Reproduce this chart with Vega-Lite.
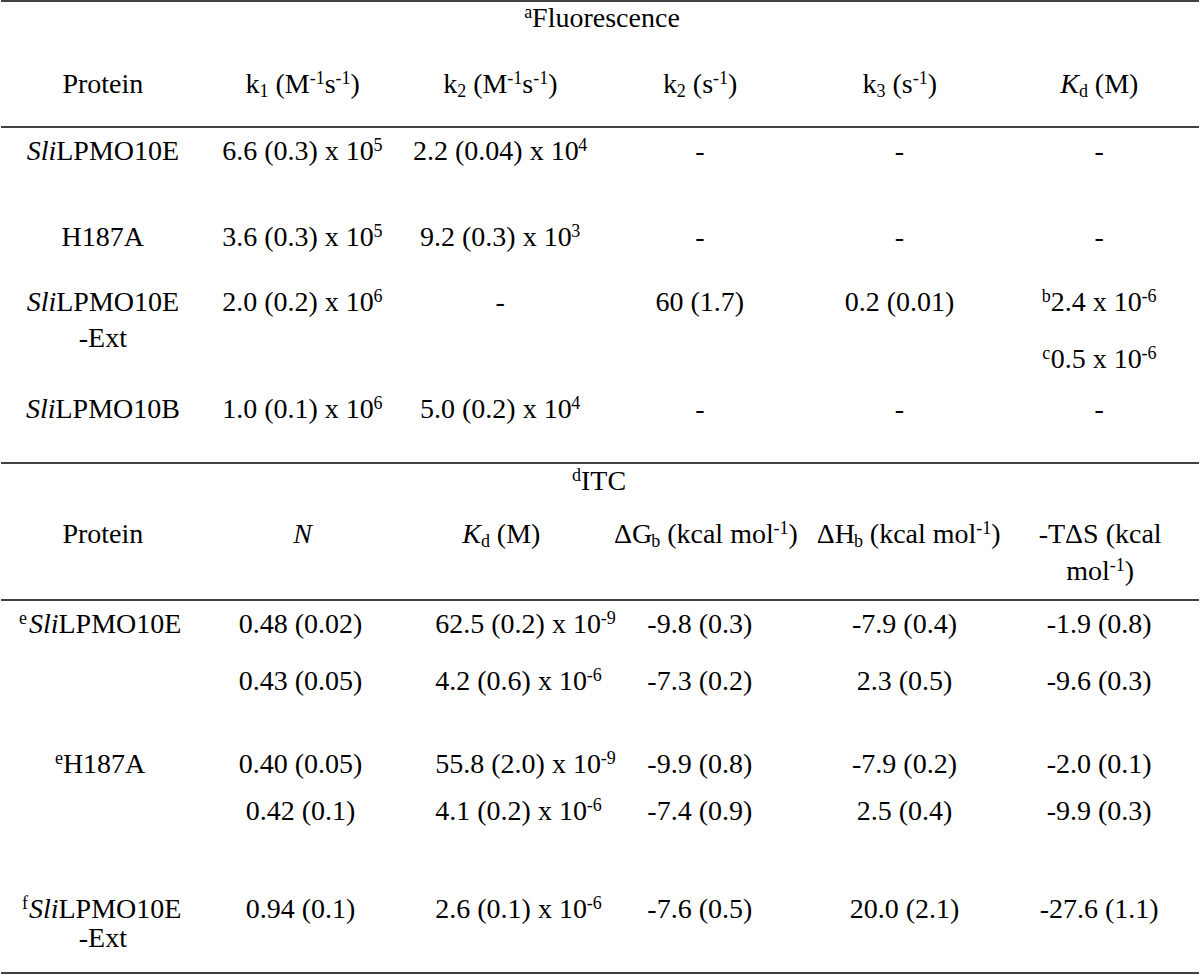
{
  "$schema": "https://vega.github.io/schema/vega-lite/v6.json",
  "autosize": {"type": "fit", "contains": "padding"},
  "width": 1200,
  "height": 975,
  "padding": 0,
  "background": "white",
  "config": {"view": {"stroke": null}},
  "datasets": {
    "lines": [
      {"x1": 0, "x2": 1200, "y": 1},
      {"x1": 0, "x2": 1200, "y": 127},
      {"x1": 0, "x2": 1200, "y": 463},
      {"x1": 0, "x2": 1200, "y": 600},
      {"x1": 0, "x2": 1200, "y": 973}
    ],
    "cells": [
      {"x": 524, "y": 27, "t": "a", "s": "p"},
      {"x": 532, "y": 27, "t": "Fluorescence", "s": "l"},

      {"x": 102, "y": 93, "t": "Protein", "s": "c"},
      {"x": 245, "y": 93, "t": "k", "s": "l"},
      {"x": 259, "y": 93, "t": "1", "s": "b"},
      {"x": 275, "y": 93, "t": "(M", "s": "l"},
      {"x": 309.2, "y": 93, "t": "-1", "s": "p"},
      {"x": 324.2, "y": 93, "t": "s", "s": "l"},
      {"x": 335.1, "y": 93, "t": "-1", "s": "p"},
      {"x": 350.1, "y": 93, "t": ")", "s": "l"},
      {"x": 443, "y": 93, "t": "k", "s": "l"},
      {"x": 457, "y": 93, "t": "2", "s": "b"},
      {"x": 473, "y": 93, "t": "(M", "s": "l"},
      {"x": 507.2, "y": 93, "t": "-1", "s": "p"},
      {"x": 522.2, "y": 93, "t": "s", "s": "l"},
      {"x": 533.1, "y": 93, "t": "-1", "s": "p"},
      {"x": 548.1, "y": 93, "t": ")", "s": "l"},
      {"x": 663, "y": 93, "t": "k", "s": "l"},
      {"x": 677, "y": 93, "t": "2", "s": "b"},
      {"x": 693, "y": 93, "t": "(s", "s": "l"},
      {"x": 713.2, "y": 93, "t": "-1", "s": "p"},
      {"x": 728.2, "y": 93, "t": ")", "s": "l"},
      {"x": 863, "y": 93, "t": "k", "s": "l"},
      {"x": 877, "y": 93, "t": "3", "s": "b"},
      {"x": 893, "y": 93, "t": "(s", "s": "l"},
      {"x": 913.2, "y": 93, "t": "-1", "s": "p"},
      {"x": 928.2, "y": 93, "t": ")", "s": "l"},
      {"x": 1061, "y": 93, "t": "K", "s": "il"},
      {"x": 1079.7, "y": 93, "t": "d", "s": "b"},
      {"x": 1095.7, "y": 93, "t": "(M)", "s": "l"},

      {"x": 25.7, "y": 160, "t": "Sli", "s": "il"},
      {"x": 55.3, "y": 160, "t": "LPMO10E", "s": "l"},
      {"x": 221.5, "y": 160, "t": "6.6 (0.3) x 10", "s": "l"},
      {"x": 373.2, "y": 160, "t": "5", "s": "p"},
      {"x": 412.7, "y": 160, "t": "2.2 (0.04) x 10", "s": "l"},
      {"x": 578.3, "y": 160, "t": "4", "s": "p"},
      {"x": 700, "y": 160, "t": "-", "s": "c"},
      {"x": 900, "y": 160, "t": "-", "s": "c"},
      {"x": 1100, "y": 160, "t": "-", "s": "c"},

      {"x": 102, "y": 246, "t": "H187A", "s": "c"},
      {"x": 221.5, "y": 246, "t": "3.6 (0.3) x 10", "s": "l"},
      {"x": 373.2, "y": 246, "t": "5", "s": "p"},
      {"x": 419.7, "y": 246, "t": "9.2 (0.3) x 10", "s": "l"},
      {"x": 571.3, "y": 246, "t": "3", "s": "p"},
      {"x": 700, "y": 246, "t": "-", "s": "c"},
      {"x": 900, "y": 246, "t": "-", "s": "c"},
      {"x": 1100, "y": 246, "t": "-", "s": "c"},

      {"x": 25.7, "y": 311, "t": "Sli", "s": "il"},
      {"x": 55.3, "y": 311, "t": "LPMO10E", "s": "l"},
      {"x": 221.5, "y": 311, "t": "2.0 (0.2) x 10", "s": "l"},
      {"x": 373.2, "y": 311, "t": "6", "s": "p"},
      {"x": 500, "y": 311, "t": "-", "s": "c"},
      {"x": 700, "y": 311, "t": "60 (1.7)", "s": "c"},
      {"x": 900, "y": 311, "t": "0.2 (0.01)", "s": "c"},
      {"x": 1042.5, "y": 311, "t": "b", "s": "p"},
      {"x": 1051.5, "y": 311, "t": "2.4 x 10", "s": "l"},
      {"x": 1142.5, "y": 311, "t": "-6", "s": "p"},
      {"x": 102, "y": 347, "t": "-Ext", "s": "c"},
      {"x": 1043, "y": 368, "t": "c", "s": "p"},
      {"x": 1051.5, "y": 368, "t": "0.5 x 10", "s": "l"},
      {"x": 1142.5, "y": 368, "t": "-6", "s": "p"},

      {"x": 25, "y": 418, "t": "Sli", "s": "il"},
      {"x": 54.6, "y": 418, "t": "LPMO10B", "s": "l"},
      {"x": 221.5, "y": 418, "t": "1.0 (0.1) x 10", "s": "l"},
      {"x": 373.2, "y": 418, "t": "6", "s": "p"},
      {"x": 419.7, "y": 418, "t": "5.0 (0.2) x 10", "s": "l"},
      {"x": 571.3, "y": 418, "t": "4", "s": "p"},
      {"x": 700, "y": 418, "t": "-", "s": "c"},
      {"x": 900, "y": 418, "t": "-", "s": "c"},
      {"x": 1100, "y": 418, "t": "-", "s": "c"},

      {"x": 572, "y": 490, "t": "d", "s": "p"},
      {"x": 581, "y": 490, "t": "ITC", "s": "l"},

      {"x": 102, "y": 543, "t": "Protein", "s": "c"},
      {"x": 302, "y": 543, "t": "N", "s": "ic"},
      {"x": 462, "y": 543, "t": "K", "s": "il"},
      {"x": 480.7, "y": 543, "t": "d", "s": "b"},
      {"x": 496.7, "y": 543, "t": "(M)", "s": "l"},
      {"x": 614, "y": 543, "t": "ΔG", "s": "l"},
      {"x": 651.3, "y": 543, "t": "b", "s": "b"},
      {"x": 667.3, "y": 543, "t": "(kcal mol", "s": "l"},
      {"x": 773.9, "y": 543, "t": "-1", "s": "p"},
      {"x": 788.9, "y": 543, "t": ")", "s": "l"},
      {"x": 817, "y": 543, "t": "ΔH", "s": "l"},
      {"x": 854.3, "y": 543, "t": "b", "s": "b"},
      {"x": 870.3, "y": 543, "t": "(kcal mol", "s": "l"},
      {"x": 976.9, "y": 543, "t": "-1", "s": "p"},
      {"x": 991.9, "y": 543, "t": ")", "s": "l"},
      {"x": 1101, "y": 543, "t": "-TΔS (kcal", "s": "c"},
      {"x": 1067, "y": 580, "t": "mol", "s": "l"},
      {"x": 1110.6, "y": 580, "t": "-1", "s": "p"},
      {"x": 1125.6, "y": 580, "t": ")", "s": "l"},

      {"x": 18, "y": 633, "t": "e", "s": "p"},
      {"x": 28, "y": 633, "t": "Sli", "s": "il"},
      {"x": 57.6, "y": 633, "t": "LPMO10E", "s": "l"},
      {"x": 300, "y": 633, "t": "0.48 (0.02)", "s": "c"},
      {"x": 435, "y": 633, "t": "62.5 (0.2) x 10", "s": "l"},
      {"x": 600.7, "y": 633, "t": "-9", "s": "p"},
      {"x": 700, "y": 633, "t": "-9.8 (0.3)", "s": "c"},
      {"x": 905, "y": 633, "t": "-7.9 (0.4)", "s": "c"},
      {"x": 1100, "y": 633, "t": "-1.9 (0.8)", "s": "c"},

      {"x": 300, "y": 690, "t": "0.43 (0.05)", "s": "c"},
      {"x": 435, "y": 690, "t": "4.2 (0.6) x 10", "s": "l"},
      {"x": 586.7, "y": 690, "t": "-6", "s": "p"},
      {"x": 700, "y": 690, "t": "-7.3 (0.2)", "s": "c"},
      {"x": 905, "y": 690, "t": "2.3 (0.5)", "s": "c"},
      {"x": 1100, "y": 690, "t": "-9.6 (0.3)", "s": "c"},

      {"x": 54, "y": 773, "t": "e", "s": "p"},
      {"x": 62, "y": 773, "t": "H187A", "s": "l"},
      {"x": 300, "y": 773, "t": "0.40 (0.05)", "s": "c"},
      {"x": 435, "y": 773, "t": "55.8 (2.0) x 10", "s": "l"},
      {"x": 600.7, "y": 773, "t": "-9", "s": "p"},
      {"x": 700, "y": 773, "t": "-9.9 (0.8)", "s": "c"},
      {"x": 905, "y": 773, "t": "-7.9 (0.2)", "s": "c"},
      {"x": 1100, "y": 773, "t": "-2.0 (0.1)", "s": "c"},

      {"x": 300, "y": 820, "t": "0.42 (0.1)", "s": "c"},
      {"x": 435, "y": 820, "t": "4.1 (0.2) x 10", "s": "l"},
      {"x": 586.7, "y": 820, "t": "-6", "s": "p"},
      {"x": 700, "y": 820, "t": "-7.4 (0.9)", "s": "c"},
      {"x": 905, "y": 820, "t": "2.5 (0.4)", "s": "c"},
      {"x": 1100, "y": 820, "t": "-9.9 (0.3)", "s": "c"},

      {"x": 21, "y": 918, "t": "f", "s": "p"},
      {"x": 28, "y": 918, "t": "Sli", "s": "il"},
      {"x": 57.6, "y": 918, "t": "LPMO10E", "s": "l"},
      {"x": 300, "y": 918, "t": "0.94 (0.1)", "s": "c"},
      {"x": 435, "y": 918, "t": "2.6 (0.1) x 10", "s": "l"},
      {"x": 586.7, "y": 918, "t": "-6", "s": "p"},
      {"x": 700, "y": 918, "t": "-7.6 (0.5)", "s": "c"},
      {"x": 905, "y": 918, "t": "20.0 (2.1)", "s": "c"},
      {"x": 1100, "y": 918, "t": "-27.6 (1.1)", "s": "c"},
      {"x": 102, "y": 947, "t": "-Ext", "s": "c"}
    ]
  },
  "layer": [
    {
      "data": {"name": "lines"},
      "mark": {"type": "rule", "color": "#404040", "strokeWidth": 2},
      "encoding": {
        "x": {"field": "x1", "type": "quantitative", "scale": {"domain": [0, 1200], "nice": false, "zero": false}, "axis": null},
        "x2": {"field": "x2"},
        "y": {"field": "y", "type": "quantitative", "scale": {"domain": [0, 975], "nice": false, "zero": false, "reverse": true}, "axis": null}
      }
    },
    {
      "data": {"name": "cells"},
      "transform": [{"filter": "datum.s == 'c'"}],
      "mark": {"type": "text", "align": "center", "baseline": "alphabetic", "font": "Liberation Serif", "fontSize": 28, "color": "#000"},
      "encoding": {
        "x": {"field": "x", "type": "quantitative", "scale": {"domain": [0, 1200], "nice": false, "zero": false}, "axis": null},
        "y": {"field": "y", "type": "quantitative", "scale": {"domain": [0, 975], "nice": false, "zero": false, "reverse": true}, "axis": null},
        "text": {"field": "t"}
      }
    },
    {
      "data": {"name": "cells"},
      "transform": [{"filter": "datum.s == 'l'"}],
      "mark": {"type": "text", "align": "left", "baseline": "alphabetic", "font": "Liberation Serif", "fontSize": 28, "color": "#000"},
      "encoding": {
        "x": {"field": "x", "type": "quantitative", "axis": null},
        "y": {"field": "y", "type": "quantitative", "axis": null},
        "text": {"field": "t"}
      }
    },
    {
      "data": {"name": "cells"},
      "transform": [{"filter": "datum.s == 'il'"}],
      "mark": {"type": "text", "align": "left", "baseline": "alphabetic", "font": "Liberation Serif", "fontStyle": "italic", "fontSize": 28, "color": "#000"},
      "encoding": {
        "x": {"field": "x", "type": "quantitative", "axis": null},
        "y": {"field": "y", "type": "quantitative", "axis": null},
        "text": {"field": "t"}
      }
    },
    {
      "data": {"name": "cells"},
      "transform": [{"filter": "datum.s == 'ic'"}],
      "mark": {"type": "text", "align": "center", "baseline": "alphabetic", "font": "Liberation Serif", "fontStyle": "italic", "fontSize": 28, "color": "#000"},
      "encoding": {
        "x": {"field": "x", "type": "quantitative", "axis": null},
        "y": {"field": "y", "type": "quantitative", "axis": null},
        "text": {"field": "t"}
      }
    },
    {
      "data": {"name": "cells"},
      "transform": [{"filter": "datum.s == 'p'"}],
      "mark": {"type": "text", "align": "left", "baseline": "alphabetic", "dy": -9, "font": "Liberation Serif", "fontSize": 18, "color": "#000"},
      "encoding": {
        "x": {"field": "x", "type": "quantitative", "axis": null},
        "y": {"field": "y", "type": "quantitative", "axis": null},
        "text": {"field": "t"}
      }
    },
    {
      "data": {"name": "cells"},
      "transform": [{"filter": "datum.s == 'b'"}],
      "mark": {"type": "text", "align": "left", "baseline": "alphabetic", "dy": 4, "font": "Liberation Serif", "fontSize": 18, "color": "#000"},
      "encoding": {
        "x": {"field": "x", "type": "quantitative", "axis": null},
        "y": {"field": "y", "type": "quantitative", "axis": null},
        "text": {"field": "t"}
      }
    }
  ]
}
